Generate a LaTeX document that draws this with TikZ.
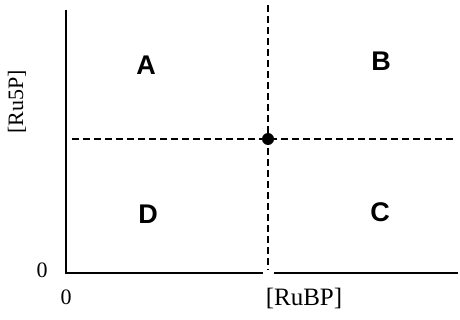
\documentclass[tikz,border=0pt]{standalone}
\usepackage{fontspec}
\setmainfont{Liberation Serif}
\newfontfamily\quadfont{Liberation Sans}
\tikzset{
  quadlabel/.style={font=\quadfont\bfseries\fontsize{27}{30}\selectfont},
  axislabel/.style={font=\fontsize{22}{24}\selectfont},
  divider/.style={line width=1.4pt, dash pattern=on 7pt off 4pt}
}
\begin{document}
\begin{tikzpicture}[x=1pt,y=-1pt]
\useasboundingbox (0,0) rectangle (460,320);

% Draw the axes
\draw[line width=1.6pt] (66,10) -- (66,273) -- (263,273);
\draw[line width=1.6pt] (274,273) -- (458,273);

% Draw the dashed dividers and the crossing point
\draw[divider] (268,5) -- (268,270);
\draw[divider] (72,139) -- (455,139);
\fill (268,139) circle (6);

% Draw the labels for the quadrants
\node[quadlabel] (regA) at (146,65) {A};
\node[quadlabel] (regB) at (381,61) {B};
\node[quadlabel] (regC) at (380,212) {C};
\node[quadlabel] (regD) at (148,214) {D};

% Draw the labels for the axes
\node[axislabel, rotate=90] (ylab) at (17,102) {[Ru5P]};
\node[axislabel, font=\fontsize{25}{27}\selectfont] (xlab) at (304,298) {[RuBP]};
\node[axislabel] (yzero) at (42,270) {0};
\node[axislabel] (xzero) at (66,297) {0};
\end{tikzpicture}
\end{document}
